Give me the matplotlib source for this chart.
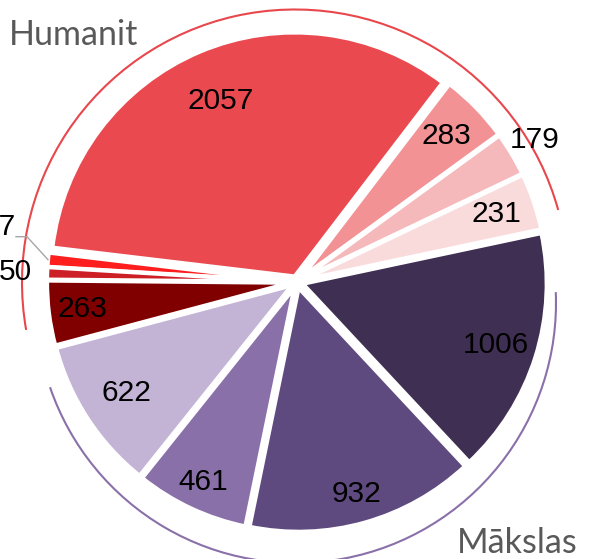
import numpy as np
import matplotlib.pyplot as plt
from matplotlib.patches import Arc

# wedge data, counter-clockwise from the start angle
values = [231, 179, 283, 2057, 57, 50, 263, 622, 461, 932, 1006]
labels = ["231", "179", "283", "2057", "57", "50", "263", "622", "461", "932", "1006"]
colors = ["#FADBDC", "#F6B9BB", "#F29295", "#EA4A4F", "#FF1E1E", "#CC1F26",
          "#800000", "#C3B4D6", "#8A70A9", "#5E4A7E", "#3F2F52"]
group_of = [0, 0, 0, 0, 0, 0, 0, 1, 1, 1, 1]
groups = ["Humanit", "Mākslas"]
group_colors = ["#E8474C", "#8A70A9"]

W, H = 599, 559
cx, cy = 297, H - 282
R = 244

fig = plt.figure(figsize=(W / 100, H / 100), dpi=100)
ax = fig.add_axes([0, 0, 1, 1])

wedges, _ = ax.pie(values, colors=colors, startangle=12, radius=R, center=(cx, cy),
                   explode=[6] * len(values),
                   wedgeprops=dict(edgecolor="white", linewidth=3))
ax.set_xlim(0, W)
ax.set_ylim(0, H)
ax.set_aspect("equal")
ax.axis("off")

# label distance (fraction of radius) for each wedge
label_dist = {"231": 0.84, "179": 1.11, "283": 0.83, "2057": 0.78, "50": 1.13,
              "263": 0.86, "622": 0.81, "461": 0.88, "932": 0.88, "1006": 0.83}
num_font = dict(fontsize=21.5, family="Liberation Sans", color="black")
for w, lab in zip(wedges, labels):
    mid = np.deg2rad((w.theta1 + w.theta2) / 2)
    x0, y0 = w.center
    if lab == "57":
        sx, sy = x0 + w.r * np.cos(mid), y0 + w.r * np.sin(mid)
        ex, ey = sx - 21, sy + 23
        ax.plot([sx, ex, ex - 11], [sy, ey, ey], color="#A6A6A6", lw=1)
        ax.text(ex - 11, ey + 10, lab, ha="right", va="center", **num_font)
        continue
    f = label_dist[lab]
    ax.text(x0 + f * w.r * np.cos(mid), y0 + f * w.r * np.sin(mid), lab,
            ha="center", va="center", **num_font)

# group arcs
arc_centers = [(295, H - 282.5), (296, H - 303)]
arc_radii = [273, 260]
pads = [(3.4, 4.9), (4, 9.6)]
for g, name in enumerate(groups):
    ws = [w for w, gi in zip(wedges, group_of) if gi == g]
    t1 = min(w.theta1 for w in ws) + pads[g][0]
    t2 = max(w.theta2 for w in ws) - pads[g][1]
    ax.add_patch(Arc(arc_centers[g], 2 * arc_radii[g], 2 * arc_radii[g],
                     theta1=t1, theta2=t2, color=group_colors[g], lw=1.5))

ax.text(9, H - 45, groups[0], ha="left", va="baseline", fontsize=24.5,
        family="Lato", color="#595959")
ax.text(457, H - 553, groups[1], ha="left", va="baseline", fontsize=24.5,
        family="Lato", color="#595959")

fig.savefig("out.png", dpi=100)
